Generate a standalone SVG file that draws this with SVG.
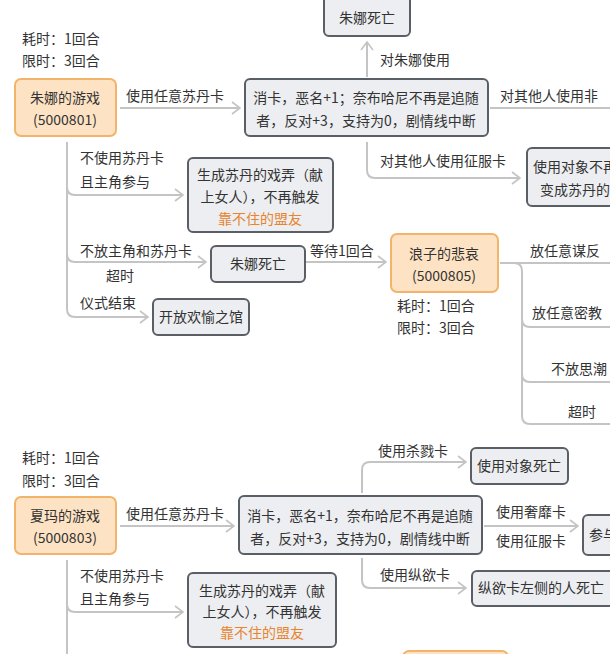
<svg xmlns="http://www.w3.org/2000/svg" width="610" height="654" viewBox="0 0 610 654">
<style>
text{font-family:"Noto Sans CJK SC","Noto Sans",sans-serif;font-size:14px;fill:#333}
.c{text-anchor:middle}
.o{fill:#e8842c}
.box{fill:#eceef1;stroke:#5a5f66;stroke-width:2}
.ob{fill:#fde3c4;stroke:#f2b46a;stroke-width:2}
.ln{fill:none;stroke:#c4c4c4;stroke-width:2}
</style>
<defs><marker id="a" markerWidth="10" markerHeight="14" refX="9" refY="7" orient="auto" markerUnits="userSpaceOnUse"><path d="M1,1 L9,7 L1,13" fill="none" stroke="#c4c4c4" stroke-width="1.6"/></marker></defs>
<rect width="610" height="654" fill="#fff"/>
<g id="connectors">
<path class="ln" d="M367,77 V42" marker-end="url(#a)"/>
<path class="ln" d="M120,108 H240" marker-end="url(#a)"/>
<path class="ln" d="M490,108 H610"/>
<path class="ln" d="M367,142 V170 Q367,178 375,178 H520" marker-end="url(#a)"/>
<path class="ln" d="M67,142 V309 Q67,317 75,317 H148" marker-end="url(#a)"/>
<path class="ln" d="M67,187 Q67,195 75,195 H183" marker-end="url(#a)"/>
<path class="ln" d="M67,254 Q67,262 75,262 H206" marker-end="url(#a)"/>
<path class="ln" d="M306,262 H386" marker-end="url(#a)"/>
<path class="ln" d="M500,263 H610"/>
<path class="ln" d="M514,263 Q522,263 522,271 V416 Q522,424 530,424 H610"/>
<path class="ln" d="M522,319 Q522,327 530,327 H610"/>
<path class="ln" d="M522,374 Q522,382 530,382 H610"/>
<path class="ln" d="M120,526 H234" marker-end="url(#a)"/>
<path class="ln" d="M362,493 V470 Q362,462 370,462 H466" marker-end="url(#a)"/>
<path class="ln" d="M484,526 H578" marker-end="url(#a)"/>
<path class="ln" d="M362,558 V580 Q362,588 370,588 H466" marker-end="url(#a)"/>
<path class="ln" d="M67,560 V654"/>
<path class="ln" d="M67,604 Q67,612 75,612 H183" marker-end="url(#a)"/>
</g>
<g id="labels">
<text x="380" y="65">对朱娜使用</text>
<text x="126" y="101">使用任意苏丹卡</text>
<text x="500" y="101">对其他人使用非</text>
<text x="380" y="166">对其他人使用征服卡</text>
<text x="80" y="163">不使用苏丹卡</text>
<text x="80" y="187">且主角参与</text>
<text x="80" y="256">不放主角和苏丹卡</text>
<text x="106" y="281">超时</text>
<text x="80" y="308">仪式结束</text>
<text x="310" y="256">等待1回合</text>
<text x="530" y="256">放任意谋反</text>
<text x="532" y="318">放任意密教</text>
<text x="551" y="374">不放思潮</text>
<text x="568" y="417">超时</text>
<text x="22" y="44">耗时：1回合</text>
<text x="22" y="66">限时：3回合</text>
<text x="397" y="311">耗时：1回合</text>
<text x="397" y="333">限时：3回合</text>
<text x="22" y="463">耗时：1回合</text>
<text x="22" y="486">限时：3回合</text>
<text x="126" y="519">使用任意苏丹卡</text>
<text x="378" y="456">使用杀戮卡</text>
<text x="496" y="517">使用奢靡卡</text>
<text x="496" y="546">使用征服卡</text>
<text x="380" y="580">使用纵欲卡</text>
<text x="80" y="581">不使用苏丹卡</text>
<text x="80" y="604">且主角参与</text>
</g>
<g id="n1"><rect class="box" x="324" y="-10" width="86" height="46" rx="5"/><text class="c" x="367" y="23">朱娜死亡</text></g>
<g id="n2"><rect class="ob" x="15" y="79" width="101" height="57" rx="6"/><text class="c" x="65" y="103">朱娜的游戏</text><text class="c" x="65" y="125">(5000801)</text></g>
<g id="n3"><rect class="box" x="245" y="79" width="243" height="57" rx="5"/><text class="c" x="366" y="103">消卡，恶名+1；奈布哈尼不再是追随</text><text class="c" x="366" y="126">者，反对+3，支持为0，剧情线中断</text></g>
<g id="n4"><rect class="box" x="527" y="148" width="100" height="58" rx="5"/><text x="533" y="172">使用对象不再</text><text x="540" y="195">变成苏丹的</text></g>
<g id="n5"><rect class="box" x="188" y="158" width="145" height="74" rx="5"/><text class="c" x="260" y="180">生成苏丹的戏弄（献</text><text class="c" x="260" y="202">上女人），不再触发</text><text class="c o" x="260" y="224">靠不住的盟友</text></g>
<g id="n6"><rect class="box" x="211" y="246" width="94" height="36" rx="5"/><text class="c" x="258" y="269">朱娜死亡</text></g>
<g id="n7"><rect class="ob" x="391" y="234" width="107" height="58" rx="6"/><text class="c" x="444" y="259">浪子的悲哀</text><text class="c" x="444" y="281">(5000805)</text></g>
<g id="n8"><rect class="box" x="153" y="299" width="96" height="36" rx="5"/><text class="c" x="201" y="322">开放欢愉之馆</text></g>
<g id="n9"><rect class="ob" x="15" y="497" width="101" height="57" rx="6"/><text class="c" x="65" y="521">夏玛的游戏</text><text class="c" x="65" y="543">(5000803)</text></g>
<g id="n10"><rect class="box" x="239" y="496" width="243" height="58" rx="5"/><text class="c" x="360" y="521">消卡，恶名+1，奈布哈尼不再是追随</text><text class="c" x="360" y="544">者，反对+3，支持为0，剧情线中断</text></g>
<g id="n11"><rect class="box" x="471" y="448" width="97" height="36" rx="5"/><text class="c" x="519" y="471">使用对象死亡</text></g>
<g id="n12"><rect class="box" x="583" y="515" width="60" height="40" rx="5"/><text x="589" y="540">参与</text></g>
<g id="n13"><rect class="box" x="472" y="571" width="150" height="35" rx="5"/><text x="478" y="593">纵欲卡左侧的人死亡</text></g>
<g id="n14"><rect class="box" x="188" y="573" width="148" height="74" rx="5"/><text class="c" x="262" y="596">生成苏丹的戏弄（献</text><text class="c" x="262" y="617">上女人），不再触发</text><text class="c o" x="262" y="638">靠不住的盟友</text></g>
<g id="n15"><rect class="ob" x="403" y="651" width="105" height="20" rx="6"/></g>
</svg>
